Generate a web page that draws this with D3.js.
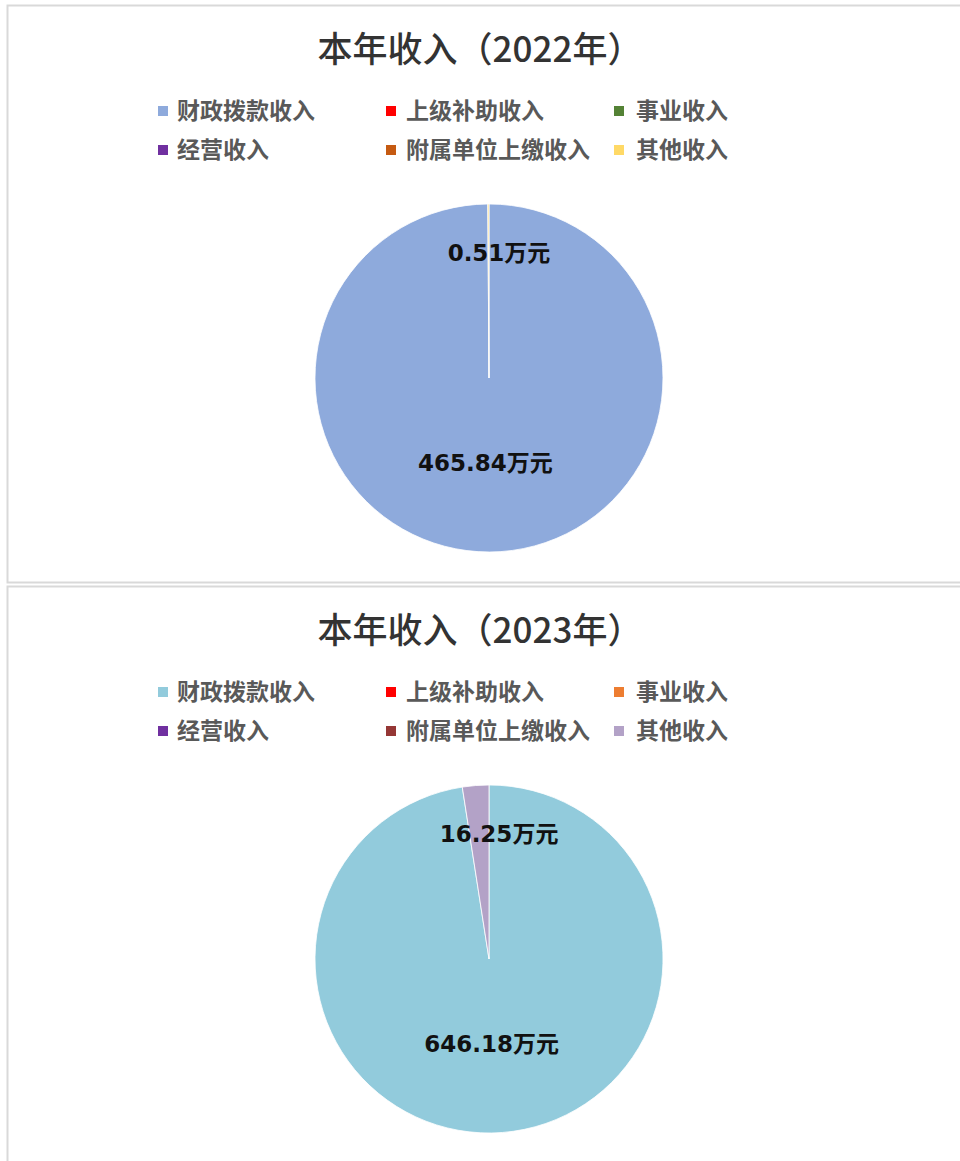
<!DOCTYPE html>
<html>
<head>
<meta charset="utf-8">
<script src="https://cdn.jsdelivr.net/npm/d3@7"></script>
<style>
  body { margin: 0; background: #fff; }
</style>
</head>
<body>
<svg id="chart" width="960" height="1161"></svg>
<script>
// categories shared by both charts
var categories = ['财政拨款收入', '上级补助收入', '事业收入', '经营收入', '附属单位上缴收入', '其他收入'];
var years = ['2022', '2023'];
// values in 万元, same order as categories
var values2022 = [465.84, 0, 0, 0, 0, 0.51];
var values2023 = [646.18, 0, 0, 0, 0, 16.25];
var colors2022 = ['#8eaadc', '#ff0000', '#548235', '#7030a0', '#c55a11', '#ffd966'];
var colors2023 = ['#92cbdc', '#ff0000', '#ed7d31', '#7030a0', '#953735', '#b3a2c7'];

var svg = d3.select('#chart');
var panels = [
    {year: years[0], values: values2022, colors: colors2022, top: 5, bottom: 582},
    {year: years[1], values: values2023, colors: colors2023, top: 586, bottom: 1175}
];

var radius = 174;
var cx = 489;

panels.forEach(function (p) {
    var g = svg.append('g').attr('transform', 'translate(0,' + p.top + ')');

    // panel frame
    g.append('rect')
        .attr('x', 7.5)
        .attr('y', 0.5)
        .attr('width', 980)
        .attr('height', p.bottom - p.top)
        .attr('fill', '#fff')
        .attr('stroke', '#d9d9d9')
        .attr('stroke-width', 2);

    // title
    g.append('text')
        .attr('x', 480)
        .attr('y', 57)
        .attr('text-anchor', 'middle')
        .attr('fill', '#333')
        .style('font', '500 35px "Noto Sans CJK SC", sans-serif')
        .text('本年收入（' + p.year + '年）');

    // legend, 3 columns x 2 rows
    var colX = [158, 386, 614];
    var textX = [177, 406, 636];
    var legend = g.append('g')
        .selectAll('g')
        .data(categories)
        .join('g')
        .attr('transform', (d, i) => 'translate(0,' + (106 + Math.floor(i / 3) * 39) + ')');
    legend.append('rect')
        .attr('x', (d, i) => colX[i % 3])
        .attr('y', -5)
        .attr('width', 10)
        .attr('height', 10)
        .attr('fill', (d, i) => p.colors[i]);
    legend.append('text')
        .attr('x', (d, i) => textX[i % 3])
        .attr('y', 0)
        .attr('dy', '0.35em')
        .attr('fill', '#595959')
        .style('font', 'bold 23px "Noto Sans CJK SC", sans-serif')
        .text(d => d);

    // pie, clockwise from 12 o'clock
    var pie = d3.pie().sort(null).value(d => d);
    var arcs = pie(p.values);
    var arc = d3.arc().innerRadius(0).outerRadius(radius);
    var cy = 373;
    var pieG = g.append('g').attr('transform', 'translate(' + cx + ',' + cy + ')');
    pieG.selectAll('path')
        .data(arcs)
        .join('path')
        .attr('d', arc)
        .attr('fill', (d, i) => p.colors[i])
        .attr('stroke', '#fff')
        .attr('stroke-width', d => d.value > 0 ? 0.8 : 0);

    // data labels: big slice inside towards the centre, small slice near the top edge
    pieG.selectAll('text')
        .data(arcs.filter(d => d.value > 0))
        .join('text')
        .attr('transform', function (d) {
            var share = (d.endAngle - d.startAngle) / (2 * Math.PI);
            var r, a;
            if (share > 0.5) {
                r = radius * 0.49;
                a = (d.startAngle + d.endAngle) / 2;
            } else {
                r = radius * 0.72;
                a = d.endAngle;
            }
            return 'translate(' + (Math.sin(a) * r) + ',' + (-Math.cos(a) * r) + ')';
        })
        .attr('dx', d => (d.endAngle - d.startAngle) / (2 * Math.PI) > 0.5 ? -4 : 10)
        .attr('text-anchor', 'middle')
        .attr('dy', '0.35em')
        .attr('fill', '#111')
        .style('font', 'bold 23px "DejaVu Sans", "Noto Sans CJK SC", sans-serif')
        .text(d => d.value + '万元');
});
</script>
</body>
</html>
